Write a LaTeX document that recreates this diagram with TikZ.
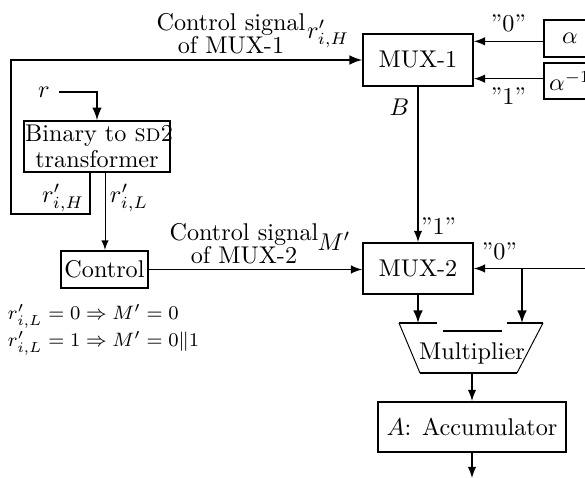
\documentclass[tikz,border=0pt]{standalone}
\usepackage{amsmath,amssymb}
\usetikzlibrary{arrows, positioning, calc}

\begin{document}
\begin{tikzpicture}[x=0.413pt, y=-0.413pt, auto, thick,
    blk/.style={rectangle, draw, thick, inner sep=1pt},
    wire/.style={semithick},
    ar/.style={-latex}]
    \useasboundingbox (0,0) rectangle (585,478);

    % Nodes
    \node (MuxOne) [blk, minimum width=45.4pt, minimum height=21.5pt] at (418,60) {MUX-1};
    \node (MuxTwo) [blk, minimum width=45.4pt, minimum height=21.1pt] at (418,268.5) {MUX-2};
    \node (Alpha) [blk, anchor=west, minimum width=21.5pt, minimum height=15.3pt] at (543,38.5) {$\alpha$};
    \node (AlphaInv) [blk, anchor=west, minimum width=21.5pt, minimum height=14.9pt] at (543,81) {$\alpha^{-1}$};
    \node (Trans) [blk, text width=59.3pt, align=center, inner sep=0.5pt, minimum height=21pt] at (97,146.5)
        {\mbox{Binary to \textsc{sd}2}\\[-1pt]transformer};
    \node (Ctrl) [blk, minimum width=35.9pt, minimum height=15.3pt] at (104.5,269.5) {Control};
    \node (Acc) [blk, minimum width=77.6pt, minimum height=20.7pt] at (472,427) {$A$: Accumulator};
    \node (Mult) at (472,353) {Multiplier};
    \node (rIn) at (44,92) {$r$};

    % Labels
    \node (CtlOneLbl) [align=center] at (231,34) {Control signal\\[-2.5pt]of MUX-1};
    \node (CtlTwoLbl) [align=center] at (244,243.5) {Control signal\\[-2.5pt]of MUX-2};
    \node (rHTop) at (328,34) {$r'_{i,H}$};
    \node (rHLow) at (63,198) {$r'_{i,H}$};
    \node (rLLow) at (129,198) {$r'_{i,L}$};
    \node (Mprime) at (334,241) {$M'$};
    \node (Rules) [anchor=west, align=left, font=\fontsize{8.4}{9.6}\selectfont, inner sep=0pt] at (7,330)
        {$r'_{i,L}=0 \Rightarrow M'=0$\\$r'_{i,L}=1 \Rightarrow M'=0\|1$};

    % Multiplier outline
    \draw[thin] (399,323) -- (420,373);
    \draw[thin] (543,323) -- (517,373);
    \foreach \a/\b/\y in {399/437/323, 443/502/331, 507/543/323}
        \draw[thick] (\a,\y) -- (\b,\y);
    \draw[thick] (420,373) -- (517,373);

    % Coordinates
    \coordinate (MuxOneA) at ($(MuxOne.north east)!0.154!(MuxOne.south east)$);
    \coordinate (MuxOneB) at ($(MuxOne.north east)!0.846!(MuxOne.south east)$);
    \coordinate (TransH) at ($(Trans.south)+(-7,0)$);
    \coordinate (TransL) at ($(Trans.south)+(8,0)$);
    \coordinate (LoopCorner) at (11,214);
    \coordinate (ZeroIn) at (585,268.5);
    \coordinate (Branch) at (522,268.5);
    \coordinate (MultInL) at (418,323);
    \coordinate (MultInR) at (522,323);
    \coordinate (MultOut) at (472,373);
    \coordinate (AccOut) at (472,478);

    % Edges
    \draw[wire, ar] (MuxOneA -| Alpha.west) -- node[above] {''0''} (MuxOneA);
    \draw[wire, ar] (MuxOneB -| AlphaInv.west) -- node[below] {''1''} (MuxOneB);
    \draw[thick, ar] (rIn.east) -| (Trans.north);
    \draw[thick, ar] (TransH) |- (LoopCorner) |- (MuxOne.west);
    \draw[thin, ar] (TransL) -- (TransL |- Ctrl.north);
    \draw[wire, ar] (Ctrl.east) -- (Ctrl.east -| MuxTwo.west);
    \draw[wire, ar] (MuxOne.south) -- node[left, pos=0.13] {$B$}
        node[right, pos=0.9, inner sep=1pt] {''1''} (MuxTwo.north);
    \draw[wire, ar] (ZeroIn) -- node[above, pos=0.77, swap] {''0''} (MuxTwo.east);
    \draw[thick, ar] (Branch) -- (MultInR);
    \draw[thick, ar] (MuxTwo.south) -- (MultInL);
    \draw[wire, ar] (MultOut) -- (Acc.north);
    \draw[wire, ar] (Acc.south) -- (AccOut);
\end{tikzpicture}
\end{document}
